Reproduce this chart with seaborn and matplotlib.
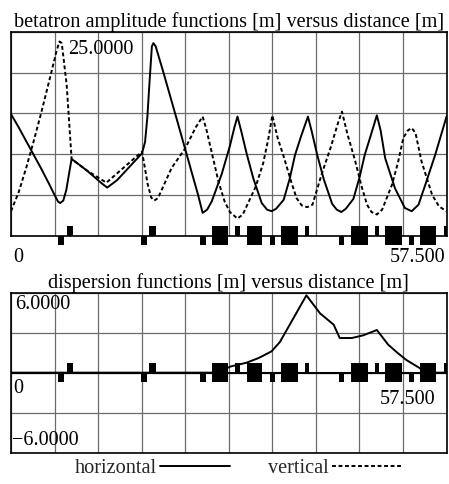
import numpy as np
import pandas as pd
import matplotlib
matplotlib.use("Agg")
import matplotlib.pyplot as plt
import seaborn as sns
from matplotlib.lines import Line2D

# lattice length and grid layout
s_max = 57.5
beta_max = 25.0
disp_lim = 6.0

# horizontal beta function (solid)
beta_x_s = [0, 1, 2, 3, 4, 5, 5.8, 6.2, 6.5, 6.9, 7.3, 7.7, 8.0, 8.3, 10.0, 12.0, 12.7,
            14.0, 16.0, 17.3, 17.7, 18.0, 18.3, 18.6, 18.8, 19.1, 20.0, 22.0, 24.0, 24.7,
            25.3, 25.9, 26.5, 27.8, 28.9, 29.5, 29.9,
            30.4, 31.1, 32.0, 33.1, 33.8, 34.4, 35.0, 36.0, 36.8, 37.5, 38.3, 39.2,
            39.7, 40.4, 41.3, 42.4, 43.0, 43.6, 44.2, 45.2, 46.0, 46.7, 47.5, 48.3,
            48.8, 49.4, 50.7, 52.0, 52.9, 53.8, 54.7, 56.0, 56.8, 57.5]
beta_x = [14.9, 13.3, 11.6, 9.9, 8.2, 6.4, 4.9, 4.2, 4.0, 4.3, 5.6, 7.8, 9.4, 9.2, 8.0, 6.4, 5.9,
          6.8, 8.8, 10.1, 11.5, 14.5, 19.0, 23.2, 23.6, 23.2, 20.4, 13.9, 7.3, 5.0,
          2.8, 3.2, 4.2, 7.5, 11.0, 13.3, 14.6,
          12.8, 10.1, 7.0, 4.0, 3.2, 3.0, 3.3, 4.4, 7.0, 9.9, 12.2, 14.6,
          12.8, 10.0, 6.9, 3.9, 3.2, 2.9, 3.3, 4.5, 7.1, 9.9, 12.3, 14.75,
          12.9, 9.5, 5.8, 3.4, 3.0, 3.8, 6.25, 9.9, 12.4, 14.6]

# vertical beta function (dashed)
beta_y_s = [0, 1.0, 2.0, 3.0, 4.0, 5.0, 6.0, 6.4, 6.7, 7.35, 8.0, 10.0, 12.6, 14.2, 17.3,
            18.05, 18.5, 18.9, 19.4, 21.2, 23.0, 24.4, 25.3, 25.8, 26.5, 27.4, 28.2, 28.9,
            29.9, 30.6, 31.1, 32.3, 33.3, 34.0, 34.5, 35.2, 36.0, 37.0, 37.7, 38.4, 39.1,
            39.8, 41.0, 42.2, 43.2, 43.7, 44.4, 45.4, 46.3, 47.0, 47.6, 48.3, 49.0, 50.3,
            51.1, 51.8, 52.4, 52.9, 53.4, 54.2, 55.6, 56.5, 57.5]
beta_y = [3.0, 5.3, 8.3, 11.6, 15.1, 18.8, 22.6, 23.8, 23.6, 18.5, 9.4, 8.0, 6.5, 7.8, 10.3,
          6.3, 4.7, 4.3, 4.6, 8.3, 10.7, 13.3, 14.6, 13.0, 10.2, 6.6, 4.2, 2.9,
          2.1, 2.6, 3.6, 6.0, 8.9, 12.0, 14.75, 12.0, 9.7, 6.6, 4.6, 3.7, 3.5,
          3.8, 7.5, 10.8, 13.9, 15.2, 12.5, 9.3, 6.0, 3.8, 2.9, 2.6, 3.2, 6.25,
          9.0, 12.0, 12.9, 13.2, 12.6, 9.1, 5.0, 3.6, 3.0]

# horizontal dispersion
disp_s = [0, 27.4, 28.9, 31.1, 32.7, 34.4, 35.5, 36.4, 37.9, 39.0, 40.8, 42.6, 43.4, 45.0,
          46.5, 48.3, 49.8, 51.0, 52.2, 54.0, 54.6, 57.5]
disp_x = [0, 0, 0.45, 0.75, 1.1, 1.6, 2.3, 3.2, 4.7, 5.8, 4.45, 3.6, 2.6, 2.6,
          2.8, 3.2, 2.1, 1.5, 0.95, 0.33, 0, 0]

# lattice elements: start, end, side (+1 above, -1 below, 0 both = dipole)
elem_start = [6.25, 7.4, 17.1, 18.2, 25.0, 26.5, 29.6, 31.1, 34.2, 35.7, 38.8,
              43.3, 44.9, 48.05, 49.4, 52.6, 54.0, 57.2]
elem_end = [7.05, 8.2, 17.95, 19.1, 25.7, 28.6, 30.2, 33.2, 34.8, 37.9, 39.35,
            43.9, 47.1, 48.6, 51.6, 53.2, 56.15, 57.5]
elem_side = [-1, 1, -1, 1, -1, 0, 1, 0, -1, 0, 1,
             -1, 0, 1, 0, -1, 0, 1]

beta_ticks = ["0", "57.500", "25.0000"]
disp_ticks = ["0", "57.500", "6.0000", "\u22126.0000"]

df_beta_x = pd.DataFrame({"s": beta_x_s, "beta": beta_x})
df_beta_y = pd.DataFrame({"s": beta_y_s, "beta": beta_y})
df_disp = pd.DataFrame({"s": disp_s, "eta": disp_x})
df_elem = pd.DataFrame({"start": elem_start, "end": elem_end, "side": elem_side})

sns.set_theme(style="white")
plt.rcParams["font.family"] = ["Liberation Serif", "DejaVu Serif"]
plt.rcParams["axes.unicode_minus"] = True

FS = 14.6
LW = 1.4
DASH = (0, (2.0, 1.35))
GRID = "#6a6a6a"


def style_axes(ax, ylo, yhi, ny):
    ax.set_xlim(0, s_max)
    ax.set_ylim(ylo, yhi)
    ax.set_xticks(np.linspace(0, s_max, 11))
    ax.set_yticks(np.linspace(ylo, yhi, ny + 1))
    ax.grid(True, color=GRID, linewidth=0.9)
    ax.tick_params(length=0, labelbottom=False, labelleft=False)
    for sp in ax.spines.values():
        sp.set_color("black")
        sp.set_linewidth(1.2)
        sp.set_visible(True)


def draw_elements(ax, y0, half):
    # boxes of magnets centred on the reference line
    for _, e in df_elem.iterrows():
        if e["side"] > 0:
            bottom, h = y0, half
        elif e["side"] < 0:
            bottom, h = y0 - half, half
        else:
            bottom, h = y0 - half, 2 * half
        ax.bar(e["start"], h, width=e["end"] - e["start"], bottom=bottom, align="edge",
               color="black", edgecolor="black", linewidth=0, clip_on=False, zorder=4)


fig = plt.figure(figsize=(4.49, 4.84), dpi=100)
ax1 = fig.add_axes([0.0245, 0.513, 0.970, 0.4215])
ax2 = fig.add_axes([0.0245, 0.0647, 0.970, 0.3306])

# --- betatron functions
style_axes(ax1, 0, beta_max, 5)
sns.lineplot(data=df_beta_x, x="s", y="beta", ax=ax1, color="black", linewidth=LW,
             sort=False, estimator=None, zorder=3)
sns.lineplot(data=df_beta_y, x="s", y="beta", ax=ax1, color="black", linewidth=LW,
             linestyle=DASH, sort=False, estimator=None, zorder=3)
draw_elements(ax1, 0, 9.5 / 204 * beta_max)
ax1.set_xlabel("")
ax1.set_ylabel("")
ax1.set_title("betatron amplitude functions [m] versus distance [m]", fontsize=FS,
              color="black", pad=3)
ax1.text(7.5, 24.0, beta_ticks[2], fontsize=FS, ha="left", va="top", color="black")
ax1.text(0.9, -1.5, beta_ticks[0], fontsize=FS, ha="center", va="top", color="black")
ax1.text(s_max - 0.1, -1.5, beta_ticks[1], fontsize=FS, ha="right", va="top", color="black")

# --- dispersion
style_axes(ax2, -disp_lim, disp_lim, 4)
ax2.axhline(0, color="black", linewidth=1.5, zorder=2)
sns.lineplot(data=df_disp, x="s", y="eta", ax=ax2, color="black", linewidth=LW,
             sort=False, estimator=None, zorder=3)
draw_elements(ax2, 0, 9.5 / 160 * 2 * disp_lim)
ax2.set_xlabel("")
ax2.set_ylabel("")
ax2.set_title("dispersion functions [m] versus distance [m]", fontsize=FS,
              color="black", pad=3)
ax2.text(0.5, 5.8, disp_ticks[2], fontsize=FS, ha="left", va="top", color="black")
ax2.text(0.9, -0.5, disp_ticks[0], fontsize=FS, ha="center", va="top", color="black")
ax2.text(56.0, -1.3, disp_ticks[1], fontsize=FS, ha="right", va="top", color="black")
ax2.text(0.1, -4.4, disp_ticks[3], fontsize=FS, ha="left", va="top", color="black")

handles = [Line2D([], [], color="black", linewidth=LW),
           Line2D([], [], color="black", linewidth=LW, linestyle=DASH)]
fig.legend(handles, ["horizontal", "vertical"], loc="center", ncol=2, frameon=False,
           bbox_to_anchor=(0.531, 0.033), fontsize=FS, markerfirst=False,
           handlelength=3.45, handletextpad=0.15, columnspacing=1.9)

fig.savefig("out.png", dpi=100, facecolor="white")
